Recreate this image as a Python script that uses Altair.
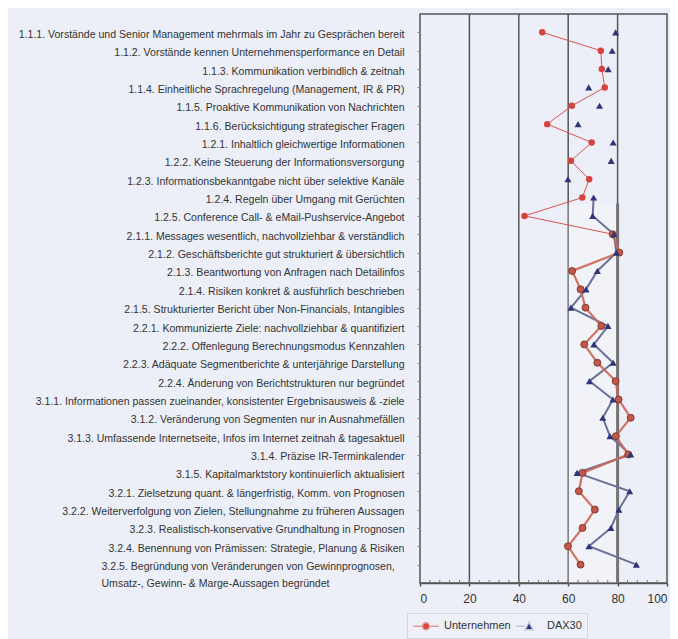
import altair as alt
import pandas as pd

categories = [
    "1.1.1. Vorstände und Senior Management mehrmals im Jahr zu Gesprächen bereit",
    "1.1.2. Vorstände kennen Unternehmensperformance en Detail",
    "1.1.3. Kommunikation verbindlich & zeitnah",
    "1.1.4. Einheitliche Sprachregelung (Management, IR & PR)",
    "1.1.5. Proaktive Kommunikation von Nachrichten",
    "1.1.6. Berücksichtigung strategischer Fragen",
    "1.2.1. Inhaltlich gleichwertige Informationen",
    "1.2.2. Keine Steuerung der Informationsversorgung",
    "1.2.3. Informationsbekanntgabe nicht über selektive Kanäle",
    "1.2.4. Regeln über Umgang mit Gerüchten",
    "1.2.5. Conference Call- & eMail-Pushservice-Angebot",
    "2.1.1. Messages wesentlich, nachvollziehbar & verständlich",
    "2.1.2. Geschäftsberichte gut strukturiert & übersichtlich",
    "2.1.3. Beantwortung von Anfragen nach Detailinfos",
    "2.1.4. Risiken konkret & ausführlich beschrieben",
    "2.1.5. Strukturierter Bericht über Non-Financials, Intangibles",
    "2.2.1. Kommunizierte Ziele: nachvollziehbar & quantifiziert",
    "2.2.2. Offenlegung Berechnungsmodus Kennzahlen",
    "2.2.3. Adäquate Segmentberichte & unterjährige Darstellung",
    "2.2.4. Änderung von Berichtstrukturen nur begründet",
    "3.1.1. Informationen passen zueinander, konsistenter Ergebnisausweis & -ziele",
    "3.1.2. Veränderung von Segmenten nur in Ausnahmefällen",
    "3.1.3. Umfassende Internetseite, Infos im Internet zeitnah & tagesaktuell",
    "3.1.4. Präzise IR-Terminkalender",
    "3.1.5. Kapitalmarktstory kontinuierlich aktualisiert",
    "3.2.1. Zielsetzung quant. & längerfristig, Komm. von Prognosen",
    "3.2.2. Weiterverfolgung von Zielen, Stellungnahme zu früheren Aussagen",
    "3.2.3. Realistisch-konservative Grundhaltung in Prognosen",
    "3.2.4. Benennung von Prämissen: Strategie, Planung & Risiken",
    "3.2.5. Begründung von Veränderungen von Gewinnprognosen,\nUmsatz-, Gewinn- & Marge-Aussagen begründet",
]

unternehmen = [49.5, 73.2, 73.6, 74.8, 61.5, 51.5, 69.5, 61.1, 68.5, 65.7,
               42.3, 78.0, 80.7, 61.6, 65.0, 67.0, 73.4, 66.5, 71.8, 79.2,
               80.4, 85.3, 79.3, 84.3, 65.8, 64.3, 70.8, 65.8, 59.9, 65.0]
dax30 = [79.2, 77.8, 76.2, 68.3, 72.7, 64.0, 78.2, 77.4, 59.9, 70.3,
         69.9, 78.5, 79.5, 71.8, 67.2, 61.1, 76.1, 70.4, 78.2, 68.6,
         78.1, 74.0, 76.9, 85.3, 63.6, 84.9, 80.5, 77.3, 68.4, 87.6]

series = ["Unternehmen", "DAX30"]
x_major = [0, 20, 40, 60, 80, 100]
x_minor = list(range(0, 101, 4))
grid_values = [20, 40, 60, 80]

FONT = "Liberation Sans"
RED = "#D6433F"
NAVY = "#2E3578"
H = 569
W = 247

df = pd.DataFrame({
    "kategorie": categories,
    "idx": list(range(len(categories))),
    "unternehmen": unternehmen,
    "dax30": dax30,
})

xscale = alt.Scale(domain=[0, 100], nice=False, zero=True)
yscale = alt.Scale(type="point", padding=1.08)

is_last = "indexof(datum.value, '3.2.5') === 0"

y_axis = alt.Axis(
    title=None, labelFont=FONT, labelFontSize=10.55, labelColor="#333333",
    labelLimit=0, labelOverlap=False, tickSize=3, tickColor="#888888",
    domain=False, grid=False,
    labelBaseline="line-top", labelLineHeight=17, labelOffset=-7,
    labelExpr="split(datum.label, '\\n')",
    labelAlign={"condition": {"test": is_last, "value": "left"}, "value": "right"},
    labelPadding={"condition": {"test": is_last, "value": 316}, "value": 13},
)
x_axis = alt.Axis(
    title=None, values=x_major, labelFont=FONT, labelFontSize=12,
    labelColor="#333333", tickSize=3, tickColor="#555555", tickWidth=1.5,
    domainColor="#555555", domainWidth=1.5, labelPadding=7, grid=False,
)

base = alt.Chart(df)
Y = alt.Y("kategorie:N", sort=categories, scale=yscale, axis=y_axis)

grid = alt.Chart(pd.DataFrame({"v": grid_values})).mark_rule(
    color="#555555", strokeWidth=1.5
).encode(x=alt.X("v:Q", scale=xscale, axis=x_axis))

minor = alt.Chart(pd.DataFrame({"v": x_minor})).mark_rule(
    color="#777777", strokeWidth=1
).encode(x=alt.X("v:Q", scale=xscale), y=alt.value(H - 3), y2=alt.value(H))

mark_row = pd.DataFrame({"kategorie": [categories[9]], "a": [59.7], "b": [80.0]})
overlay = alt.Chart(mark_row).mark_rect(fill="white", opacity=0.25, yOffset=6).encode(
    x=alt.X("a:Q", scale=xscale), x2="b:Q", y=Y, y2=alt.value(H)
)
thick80 = alt.Chart(mark_row).mark_rule(color="#747474", strokeWidth=3, yOffset=6).encode(
    x=alt.X("b:Q", scale=xscale), y=Y, y2=alt.value(H)
)

blue_line = base.transform_filter("datum.idx >= 9").mark_line(
    color="#6B7096", strokeWidth=2
).encode(x=alt.X("dax30:Q", scale=xscale), y=Y, order="idx:Q")
red_line_top = base.transform_filter("datum.idx <= 11").mark_line(
    color="#DA5550", strokeWidth=1
).encode(x=alt.X("unternehmen:Q", scale=xscale), y=Y, order="idx:Q")
red_line_low = base.transform_filter("datum.idx >= 11").mark_line(
    color="#CC6655", strokeWidth=2.2, opacity=0.9
).encode(x=alt.X("unternehmen:Q", scale=xscale), y=Y, order="idx:Q")

red_pts_top = base.transform_filter("datum.idx <= 10").mark_circle(
    color=RED, size=42, opacity=1
).encode(x=alt.X("unternehmen:Q", scale=xscale), y=Y)
red_pts_low = base.transform_filter("datum.idx >= 11").mark_circle(
    fill="#C4574A", stroke="#7F3A30", strokeWidth=1, size=48, opacity=1
).encode(x=alt.X("unternehmen:Q", scale=xscale), y=Y)
tri = base.mark_point(
    shape="triangle-up", filled=True, color=NAVY, size=50, opacity=1
).encode(x=alt.X("dax30:Q", scale=xscale), y=Y)

# legend symbols: slot is 14px (unit = 7px); symbols extend to the right of the slot
path_u = ("M-1,0L0.357,0M1.357,0L2.714,0"
          "M1.357,0A0.5,0.5 0 1 1 0.357,0A0.5,0.5 0 1 1 1.357,0Z")
path_d = "M-1,0L0.286,0M0.857,-0.6L1.43,0.5L0.286,0.5Z"

leg = dict(
    title=None, orient="none", legendX=-13, legendY=H + 30, direction="horizontal",
    fillColor="#EEF0F8", strokeColor="#D3D6E0", padding=5,
    labelFont=FONT, labelFontSize=11, labelColor="#333333", labelOffset=16,
    symbolSize=196, symbolStrokeWidth=1.5, columnPadding=2,
)
legend_layer = alt.Chart(pd.DataFrame({"s": series})).transform_filter("false").mark_point(
    filled=True, opacity=1
).encode(
    fill=alt.Fill("s:N", scale=alt.Scale(domain=series, range=[RED, NAVY]), legend=alt.Legend(**leg)),
    stroke=alt.Stroke("s:N", scale=alt.Scale(domain=series, range=["#E39C96", "#C3C7DC"]), legend=alt.Legend(**leg)),
    shape=alt.Shape("s:N", scale=alt.Scale(domain=series, range=[path_u, path_d]), legend=alt.Legend(**leg)),
)

chart = alt.layer(
    grid, overlay, thick80, minor, blue_line, red_line_top, red_line_low,
    red_pts_top, red_pts_low, tri, legend_layer,
).properties(
    width=W, height=H, autosize="none",
    padding={"left": 412, "top": 6, "right": 3, "bottom": 56},
    background="#ECEFF7",
).configure_view(
    fill="#ECEFF7", stroke="#555555", strokeWidth=1.5
)

chart.save("out.html", embed_options={"renderer": "svg", "actions": False})
